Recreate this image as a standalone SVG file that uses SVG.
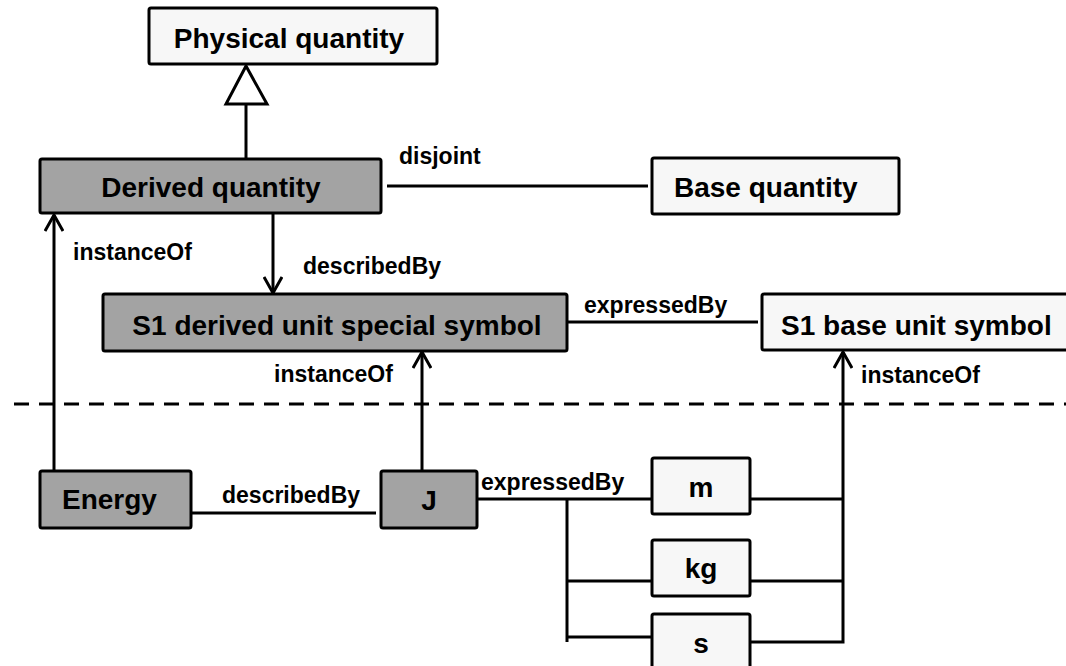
<svg xmlns="http://www.w3.org/2000/svg" width="1066" height="666" viewBox="0 0 1066 666">
<style>
.box{stroke:#000;stroke-width:3}
.dark{fill:#a3a3a3}
.light{fill:#f7f7f7}
.t{font-family:"Liberation Sans",Arial,sans-serif;font-weight:bold;font-size:28px;fill:#000}
.lbl{font-family:"Liberation Sans",Arial,sans-serif;font-weight:bold;font-size:23px;fill:#000}
.ln{stroke:#000;stroke-width:3;fill:none}
.dash{stroke:#000;stroke-width:3;stroke-dasharray:15 10;fill:none}
</style>
<defs>
<marker id="open" viewBox="0 0 20 20" refX="18" refY="10" markerWidth="20" markerHeight="20" markerUnits="userSpaceOnUse" orient="auto">
<path d="M2,1 L18,10 L2,19" fill="none" stroke="#000" stroke-width="3"/>
</marker>
</defs>
<rect width="1066" height="666" fill="#fff"/>
<g id="connectors">
<line class="dash" x1="14" y1="404" x2="1066" y2="404"/>
<polygon points="246,66 226,104 267,104" fill="#fff" stroke="#000" stroke-width="3"/>
<line class="ln" x1="246" y1="104" x2="246" y2="158"/>
<line class="ln" x1="387" y1="186" x2="648" y2="186"/>
<line class="ln" x1="273" y1="214" x2="273" y2="293" marker-end="url(#open)"/>
<line class="ln" x1="54" y1="471" x2="54" y2="215" marker-end="url(#open)"/>
<line class="ln" x1="422" y1="471" x2="422" y2="352" marker-end="url(#open)"/>
<line class="ln" x1="567" y1="322" x2="758" y2="322"/>
<line class="ln" x1="191" y1="513" x2="376" y2="513"/>
<line class="ln" x1="477" y1="499" x2="651" y2="499"/>
<polyline class="ln" points="567,499 567,642"/>
<line class="ln" x1="567" y1="581" x2="651" y2="581"/>
<line class="ln" x1="567" y1="637" x2="651" y2="637"/>
<line class="ln" x1="750" y1="499" x2="843" y2="499"/>
<line class="ln" x1="750" y1="581" x2="843" y2="581"/>
<polyline class="ln" points="750,642 843,642 843,352" marker-end="url(#open)"/>
<text class="lbl" x="399" y="164">disjoint</text>
<text class="lbl" x="303" y="274">describedBy</text>
<text class="lbl" x="73" y="260">instanceOf</text>
<text class="lbl" x="274" y="382">instanceOf</text>
<text class="lbl" x="584" y="313">expressedBy</text>
<text class="lbl" x="861" y="383">instanceOf</text>
<text class="lbl" x="222" y="503">describedBy</text>
<text class="lbl" x="481" y="490">expressedBy</text>
</g>
<g id="physical-quantity">
<rect class="box light" x="149" y="8" width="288" height="56" rx="2"/>
<text class="t" x="289" y="48" text-anchor="middle">Physical quantity</text>
</g>
<g id="derived-quantity">
<rect class="box dark" x="40" y="159" width="341" height="54" rx="2"/>
<text class="t" x="211" y="197" text-anchor="middle">Derived quantity</text>
</g>
<g id="base-quantity">
<rect class="box light" x="652" y="158" width="247" height="56" rx="2"/>
<text class="t" x="674" y="197">Base quantity</text>
</g>
<g id="si-derived-unit-special-symbol">
<rect class="box dark" x="103" y="294" width="464" height="57" rx="2"/>
<text class="t" x="337" y="335" text-anchor="middle">S1 derived unit special symbol</text>
</g>
<g id="si-base-unit-symbol">
<rect class="box light" x="762" y="294" width="320" height="56" rx="2"/>
<text class="t" x="781" y="335">S1 base unit symbol</text>
</g>
<g id="energy">
<rect class="box dark" x="40" y="471" width="151" height="57" rx="2"/>
<text class="t" x="62" y="509">Energy</text>
</g>
<g id="j">
<rect class="box dark" x="381" y="471" width="96" height="57" rx="2"/>
<text class="t" x="429" y="510" text-anchor="middle">J</text>
</g>
<g id="m">
<rect class="box light" x="652" y="458" width="98" height="56" rx="2"/>
<text class="t" x="701" y="497" text-anchor="middle">m</text>
</g>
<g id="kg">
<rect class="box light" x="652" y="540" width="98" height="56" rx="2"/>
<text class="t" x="701" y="578" text-anchor="middle">kg</text>
</g>
<g id="s">
<rect class="box light" x="652" y="614" width="98" height="66" rx="2"/>
<text class="t" x="701" y="653" text-anchor="middle">s</text>
</g>
</svg>
